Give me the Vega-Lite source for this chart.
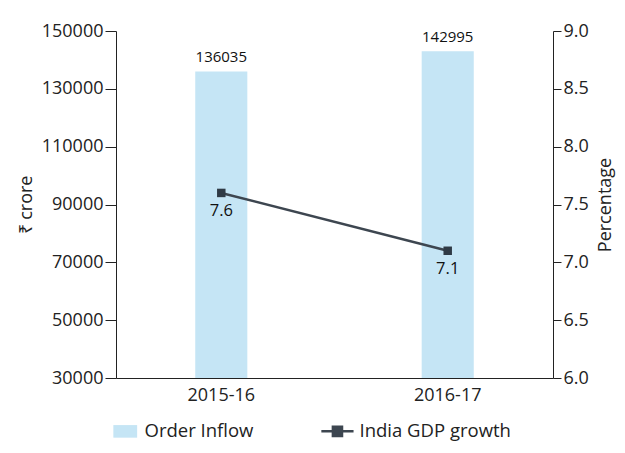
{
  "$schema": "https://vega.github.io/schema/vega-lite/v6.json",
  "autosize": {"type": "none"},
  "padding": {"left": 116, "top": 31, "right": 72, "bottom": 75},
  "width": 437,
  "height": 347,
  "background": "white",
  "config": {
    "font": "Open Sans",
    "view": {"stroke": null},
    "axis": {"labelFont": "Open Sans", "labelFontSize": 18, "labelColor": "#222", "titleFont": "Open Sans", "titleFontSize": 18, "titleFontWeight": "normal", "titleColor": "#222", "domainColor": "#222", "tickColor": "#222", "grid": false}
  },
  "data": {"values": [
    {"year": "2015-16", "order": 136035, "gdp": 7.6},
    {"year": "2016-17", "order": 142995, "gdp": 7.1}
  ]},
  "encoding": {
    "x": {"field": "year", "type": "nominal", "scale": {"paddingInner": 0.77, "paddingOuter": 0.35}, "axis": {"title": null, "labelAngle": 0, "ticks": false, "labelPadding": 8}}
  },
  "layer": [
    {
      "layer": [
        {
          "mark": {"type": "bar", "clip": true},
          "encoding": {
            "y": {"field": "order", "type": "quantitative", "scale": {"domain": [30000, 150000], "zero": false, "nice": false}, "axis": {"title": "₹ crore", "values": [30000, 50000, 70000, 90000, 110000, 130000, 150000], "format": "d", "tickSize": 11, "labelPadding": 2, "titlePadding": 6}},
            "color": {"datum": "Order Inflow", "type": "nominal", "scale": {"domain": ["Order Inflow", "India GDP growth"], "range": ["#c5e5f5", "#3d4650"]},
              "legend": {"title": null, "orient": "bottom", "direction": "horizontal", "labelFont": "Open Sans", "labelFontSize": 18.5, "labelColor": "#222", "symbolSize": 196, "labelOffset": 10, "columnPadding": 62, "offset": 18,
                "encode": {"symbols": {"update": {
                  "shape": {"signal": "datum.value === 'Order Inflow' ? 'M-1.7,-0.9H1.7V0.9H-1.7Z' : 'M-2.7,0H1.9M-1.05,-0.65H0.25V0.65H-1.05Z'"},
                  "fill": {"signal": "datum.value === 'Order Inflow' ? '#c5e5f5' : '#3a3f45'"},
                  "stroke": {"signal": "datum.value === 'Order Inflow' ? 'transparent' : '#555b61'"},
                  "strokeWidth": {"signal": "datum.value === 'Order Inflow' ? 0 : 2.5"},
                  "opacity": {"value": 1}
                }}}}}
          }
        },
        {
          "mark": {"type": "text", "dy": -14, "fontSize": 15, "color": "#111"},
          "encoding": {
            "y": {"field": "order", "type": "quantitative"},
            "text": {"field": "order", "type": "quantitative", "format": "d"}
          }
        }
      ]
    },
    {
      "layer": [
        {
          "mark": {"type": "line", "strokeWidth": 2.5},
          "encoding": {
            "y": {"field": "gdp", "type": "quantitative", "scale": {"domain": [6, 9], "zero": false, "nice": false}, "axis": {"orient": "right", "title": "Percentage", "titleAngle": 270, "titleBaseline": "top", "values": [6, 6.5, 7, 7.5, 8, 8.5, 9], "format": ".1f", "tickSize": 8, "labelPadding": 2, "titlePadding": 8}},
            "color": {"datum": "India GDP growth", "type": "nominal"}
          }
        },
        {
          "mark": {"type": "point", "shape": "square", "filled": true, "size": 72, "color": "#2f3a45", "opacity": 1},
          "encoding": {
            "y": {"field": "gdp", "type": "quantitative"}
          }
        },
        {
          "mark": {"type": "text", "dy": 18, "fontSize": 16.5, "color": "#111"},
          "encoding": {
            "y": {"field": "gdp", "type": "quantitative"},
            "text": {"field": "gdp", "type": "quantitative", "format": ".1f"}
          }
        }
      ]
    }
  ],
  "resolve": {"scale": {"y": "independent"}, "axis": {"y": "independent"}}
}
